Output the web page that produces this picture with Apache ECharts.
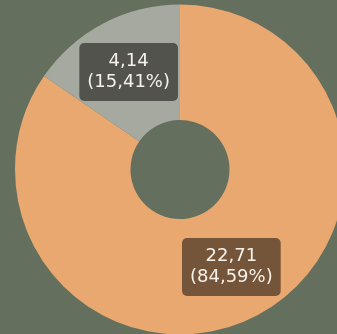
<!DOCTYPE html>
<html>
<head>
<meta charset="utf-8">
<script src="https://cdn.jsdelivr.net/npm/echarts@6/dist/echarts.min.js"></script>
<style>
  html, body { margin: 0; padding: 0; background: #656f5e; }
  #chart { width: 337px; height: 334px; }
</style>
</head>
<body>
<div id="chart"></div>
<script>
// values
const categories = ['A', 'B']
const values = [22.71, 4.14]
const percentLabels = ['84,59', '15,41']
const sliceColors = ['#e8a870', '#a6a9a0']
const labelBoxes = ['#74553a', '#52534d']

const chart = echarts.init(document.getElementById('chart'))

chart.setOption({
  backgroundColor: '#656f5e',
  animation: false,
  series: [{
    type: 'pie',
    center: [180, 169.5],
    radius: [49.5, 165],
    startAngle: 90,
    clockwise: true,
    data: categories.map((c, i) => ({
      name: c,
      value: values[i],
      itemStyle: { color: sliceColors[i] },
      label: { backgroundColor: labelBoxes[i] },
    })),
    label: {
      show: true,
      position: 'inside',
      fontFamily: 'DejaVu Sans',
      fontSize: 18,
      lineHeight: 21,
      color: '#f6f1ea',
      padding: [8, 8, 8, 8],
      borderRadius: 5,
      formatter: (p) => p.value.toFixed(2).replace('.', ',') + '\n(' + percentLabels[p.dataIndex] + '%)',
    },
    labelLine: { show: false },
    emphasis: { disabled: true },
  }],
})
</script>
</body>
</html>
